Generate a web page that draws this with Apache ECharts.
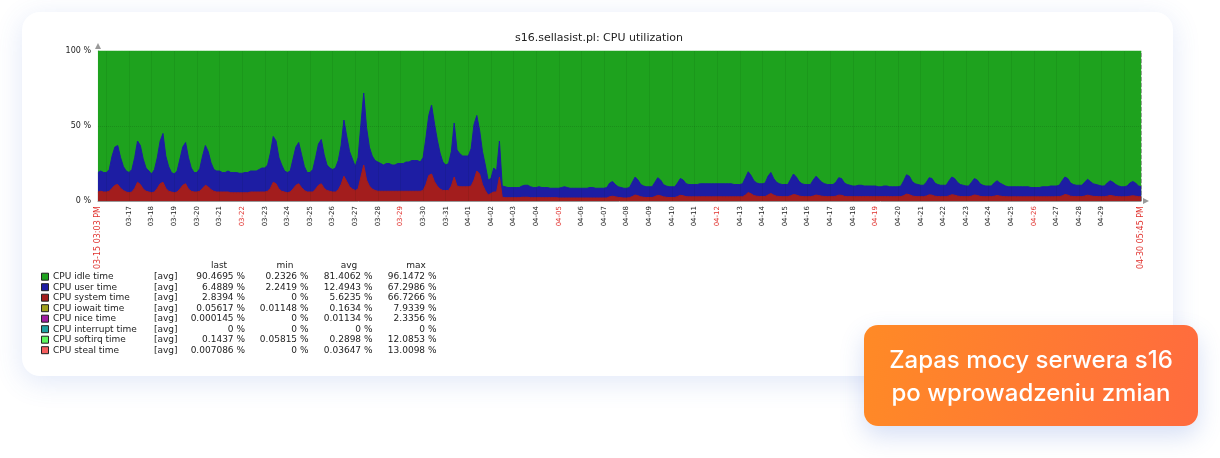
<!DOCTYPE html>
<html>
<head>
<meta charset="utf-8">
<title>s16.sellasist.pl: CPU utilization</title>
<script src="https://cdn.jsdelivr.net/npm/echarts@6/dist/echarts.min.js"></script>
<style>
  html, body { margin: 0; padding: 0; background: #ffffff; }
  body { width: 1220px; height: 458px; position: relative; overflow: hidden; }
  #card {
    position: absolute; left: 22px; top: 12px; width: 1151px; height: 364px;
    background: #ffffff; border-radius: 18px;
    box-shadow: 0 6px 28px rgba(70, 110, 210, 0.16);
  }
  #chart { position: absolute; left: 0; top: 0; width: 1220px; height: 458px; }
  #badge {
    position: absolute; left: 864px; top: 325px; width: 334px; height: 101px;
    border-radius: 14px;
    background: linear-gradient(100deg, #ff8a26 0%, #ff6b3e 100%);
    box-shadow: 0 10px 24px rgba(70, 110, 210, 0.22);
    color: #ffffff; font-family: Inter, "Open Sans", sans-serif; font-size: 24px; font-weight: 500;
    line-height: 33px; text-align: center;
    display: flex; align-items: center; justify-content: center;
  }
</style>
</head>
<body>
<div id="card"></div>
<div id="chart"></div>
<div id="badge"><div>Zapas mocy serwera s16<br>po wprowadzeniu zmian</div></div>
<script>
/**
 * Wykres CPU utilization (Zabbix) dla s16.sellasist.pl
 * czas w godzinach od 03-15 00:00, próbki co 3 godziny
 */
var startHour = 15.05;   // 03-15 03:03 PM
var endHour = 1121.75;   // 04-30 05:45 PM
var firstSlot = 15;      // pierwsza próbka 03-15 15:00
var stepHours = 3;

var firstLabel = '03-15 03:03 PM';
var lastLabel = '04-30 05:45 PM';
var dayLabels = ['03-17', '03-18', '03-19', '03-20', '03-21', '03-22', '03-23', '03-24', '03-25', '03-26',
  '03-27', '03-28', '03-29', '03-30', '03-31', '04-01', '04-02', '04-03', '04-04', '04-05', '04-06',
  '04-07', '04-08', '04-09', '04-10', '04-11', '04-12', '04-13', '04-14', '04-15', '04-16', '04-17',
  '04-18', '04-19', '04-20', '04-21', '04-22', '04-23', '04-24', '04-25', '04-26', '04-27', '04-28', '04-29'];
var redLabels = ['03-22', '03-29', '04-05', '04-12', '04-19', '04-26'];

// CPU system time [%] - co 3h (00,03,...,21)
var systemTime = [
  6, 6.5, 6,
  6, 6.5, 8.5, 10.5, 11, 8.5, 7, 6,
  5.5, 6, 8.5, 12.5, 11, 8, 6.5, 6,
  5.5, 6, 8.5, 11.5, 12.5, 8.5, 6.5, 6,
  5.5, 6, 8, 10.5, 11.5, 8, 6.5, 6,
  6, 6.5, 8.5, 10.5, 9.5, 7.5, 6.5, 6,
  6, 6, 6, 6, 5.5, 5.5, 5.5, 5.5,
  5.5, 5.5, 5.5, 6, 6, 6, 6, 6,
  6, 6.5, 8.5, 12.5, 11.5, 8, 6.5, 6,
  5.5, 6, 8, 10.5, 11.5, 9, 7, 6,
  6, 6, 8, 10.5, 11.5, 8.5, 7, 6.5,
  6, 6, 7.5, 11, 16.5, 13, 9.5, 8,
  7, 8, 16, 24, 14, 10, 8, 7,
  6.5, 6.5, 6.5, 6.5, 6.5, 6.5, 6.5, 6.5,
  6.5, 6.5, 6.5, 6.5, 6.5, 6.5, 6.5, 6.5,
  7, 11, 17, 18, 13, 10, 8, 7,
  7, 7, 10, 16, 10, 9.5, 9.5, 9.5,
  9.5, 10, 14, 20, 18, 11, 7, 4,
  5, 6, 6, 16, 2.5, 2.2, 2.2, 2.2,
  2.2, 2.2, 2.2, 2.5, 2.5, 2.5, 2.2, 2.2,
  2.2, 2.2, 2.2, 2.2, 2.2, 2.2, 2.2, 2.2,
  2, 2, 2, 2, 2, 2, 2, 2,
  2, 2, 2, 2, 2, 2, 2, 2,
  2, 2, 2.8, 3.2, 2.8, 2.4, 2.2, 2,
  2, 2.2, 3, 4, 3.5, 2.8, 2.5, 2.3,
  2.3, 2.3, 3, 3.8, 3.5, 2.8, 2.5, 2.3,
  2.3, 2.3, 3, 3.8, 3.5, 2.9, 2.8, 2.8,
  2.8, 2.8, 2.8, 2.8, 2.8, 2.8, 2.8, 2.8,
  2.8, 2.8, 2.8, 2.8, 2.8, 2.8, 2.8, 2.8,
  2.8, 2.8, 4, 5.6, 4.8, 3.6, 3.2, 3,
  3, 3, 4, 5, 4, 3.2, 3, 2.9,
  2.9, 2.9, 3.5, 4.3, 4, 3.3, 3, 2.9,
  2.9, 2.9, 3.3, 4, 3.6, 3.2, 3, 2.9,
  2.9, 2.9, 3.2, 3.9, 3.8, 3.1, 2.9, 2.9,
  2.9, 2.9, 2.9, 2.9, 2.9, 2.9, 2.9, 2.9,
  2.9, 2.9, 2.9, 2.9, 2.9, 2.9, 2.9, 2.9,
  2.9, 2.9, 3.6, 4.6, 4.2, 3.4, 3, 2.9,
  2.9, 2.9, 3.3, 4.1, 3.9, 3.2, 3, 2.9,
  2.9, 2.9, 3.4, 4.2, 3.9, 3.3, 3, 2.9,
  2.9, 2.9, 3.3, 4, 3.7, 3.1, 2.9, 2.9,
  2.9, 2.9, 3.2, 3.6, 3.3, 3, 2.9, 2.8,
  2.8, 2.8, 2.8, 2.8, 2.8, 2.8, 2.8, 2.8,
  2.8, 2.8, 2.8, 2.8, 2.8, 2.8, 2.8, 2.8,
  2.9, 2.9, 3.4, 4.3, 4, 3.2, 3, 2.9,
  2.9, 2.9, 3.3, 3.9, 3.5, 3.1, 3, 2.9,
  2.9, 2.9, 3.2, 3.7, 3.4, 3, 2.9, 2.8,
  2.8, 2.9, 3.2, 3.5, 3.2, 2.9, 2.8
];

// CPU user time [%] - co 3h (00,03,...,21)
var userTime = [
  13, 13.5, 13,
  13, 14.5, 21.5, 25.5, 26, 20.5, 16, 14,
  13.5, 15, 20.5, 27.5, 26, 20, 15.5, 14,
  12.5, 15, 20.5, 28.5, 32.5, 21.5, 16.5, 13,
  12.5, 14, 20, 25.5, 27.5, 21, 15.5, 13,
  13, 15, 21.5, 26.5, 23.5, 18, 14.5, 14,
  14, 13, 13, 14, 13.5, 13.5, 13.5, 13,
  13, 13.5, 13.5, 14, 14, 14, 15, 16,
  16, 17.5, 23.5, 30.5, 28.5, 21, 17.5, 14,
  13.5, 14, 20, 25.5, 27.5, 22, 16, 13,
  13, 15, 21, 27.5, 29.5, 22.5, 17, 15.5,
  15, 16, 19.5, 26, 37.5, 30, 23.5, 20,
  16, 21, 35, 48, 35, 26, 22, 20,
  19.5, 18.5, 17.5, 18.5, 18.5, 17.5, 17.5, 18.5,
  18.5, 18.5, 19.5, 19.5, 20.5, 20.5, 20.5, 19.5,
  22, 31, 40, 46, 39, 31, 24, 19,
  17, 18, 23, 36, 24, 22, 20.5, 20.5,
  20.5, 25, 37, 37, 29, 22, 17, 10,
  10, 16, 14, 24, 7.5, 7.3, 6.8, 6.8,
  6.8, 6.8, 6.8, 7.5, 8, 8, 7.3, 6.8,
  6.8, 7.3, 6.8, 6.8, 6.8, 6.3, 6.3, 6.3,
  6.5, 7, 7.5, 7, 6.5, 6.5, 6.5, 6.5,
  6.5, 6.5, 6.5, 7, 7, 6.5, 6.5, 6.5,
  6.5, 7, 9.2, 9.8, 8.2, 7.1, 6.8, 6.5,
  6.5, 6.8, 9.5, 12, 10.5, 8.2, 7.5, 7.2,
  7.2, 7.2, 9.5, 11.7, 10.5, 8.2, 7.5, 7.2,
  7.2, 7.2, 9, 11.2, 10.5, 8.6, 8.2, 8.2,
  8.2, 8.2, 8.7, 8.7, 8.7, 8.7, 8.7, 8.7,
  8.7, 8.7, 8.7, 8.7, 8.7, 8.7, 8.2, 8.2,
  8.2, 8.7, 11.5, 13.9, 12.2, 9.9, 8.8, 8.5,
  8.5, 9, 12.5, 14, 11, 9.3, 8.5, 8.1,
  8.1, 8.1, 11, 13.7, 12, 9.7, 8.5, 8.1,
  8.1, 8.1, 10.7, 12.5, 10.9, 9.3, 8.5, 8.1,
  8.1, 8.1, 9.3, 11.6, 11.2, 8.9, 8.1, 7.6,
  7.1, 7.1, 7.6, 7.6, 7.1, 7.1, 7.1, 7.1,
  7.1, 6.6, 6.6, 7.1, 7.1, 6.6, 6.6, 6.6,
  6.6, 7.1, 9.9, 12.9, 12.3, 9.6, 8.5, 8.1,
  7.6, 7.6, 9.2, 11.4, 11.1, 8.8, 8, 7.6,
  7.6, 7.6, 10, 11.8, 11.1, 9.2, 8, 7.6,
  7.1, 7.1, 9.2, 11, 10.3, 8.4, 7.6, 7.1,
  7.1, 7.1, 8.8, 9.9, 8.7, 8, 7.1, 6.7,
  6.7, 6.7, 6.7, 6.7, 6.7, 6.7, 6.7, 6.2,
  6.2, 6.2, 6.2, 6.7, 6.7, 6.7, 7.2, 7.2,
  7.1, 7.6, 10, 11.7, 11, 8.8, 8, 7.6,
  7.6, 7.6, 9.2, 10.6, 9.5, 8.4, 8, 7.6,
  7.1, 7.1, 8.8, 9.8, 9.1, 8, 7.1, 6.7,
  6.7, 7.1, 8.8, 9.5, 8.8, 7.1, 6.7
];

// tabela legendy
var legendNames = ['CPU idle time', 'CPU user time', 'CPU system time', 'CPU iowait time',
  'CPU nice time', 'CPU interrupt time', 'CPU softirq time', 'CPU steal time'];
var legendColors = ['#1ea21e', '#1d1da3', '#a31d1d', '#a0a01e', '#a01ea0', '#1ea0a0', '#5ef55e', '#f55e5e'];
var lastValues = ['90.4695', '6.4889', '2.8394', '0.05617', '0.000145', '0', '0.1437', '0.007086'];
var minValues = ['0.2326', '2.2419', '0', '0.01148', '0', '0', '0.05815', '0'];
var avgValues = ['81.4062', '12.4943', '5.6235', '0.1634', '0.01134', '0', '0.2898', '0.03647'];
var maxValues = ['96.1472', '67.2986', '66.7266', '7.9339', '2.3356', '0', '12.0853', '13.0098'];

function slotHour(i) {
	return firstSlot + i * stepHours;
}

function labelHours() {
	var vals = [startHour];
	for (var i = 0; i < dayLabels.length; i++) {
		vals.push(48 + 24 * i);
	}
	vals.push(endHour);
	return vals;
}

// etykiety osi X: poczatek/koniec wiekszym czerwonym, niedziele czerwone
function labelText(v) {
	v = parseFloat(v);
	if (Math.abs(v - startHour) < 0.01) return '{edge|' + firstLabel + '}';
	if (Math.abs(v - endHour) < 0.01) return '{edge|' + lastLabel + '}';
	var txt = dayLabels[Math.round((v - 48) / 24)] || '';
	return redLabels.indexOf(txt) >= 0 ? '{red|' + txt + '}' : '{day|' + txt + '}';
}

function legendGraphic() {
	var font = '9px "DejaVu Sans"';
	var els = [];
	var headers = [['last', 219], ['min', 285], ['avg', 349], ['max', 416]];
	headers.forEach(function (h) {
		els.push({ type: 'text', style: { text: h[0], x: h[1], y: 266, font: font, fill: '#222', textAlign: 'center', textVerticalAlign: 'middle' } });
	});
	for (var i = 0; i < legendNames.length; i++) {
		var cy = 276.7 + i * 10.5;
		els.push({ type: 'rect', shape: { x: 41.5, y: cy - 3.5, width: 7, height: 7 },
			style: { fill: legendColors[i], stroke: '#222', lineWidth: 1 } });
		els.push({ type: 'text', style: { text: legendNames[i], x: 53, y: cy, font: font, fill: '#222', textVerticalAlign: 'middle' } });
		els.push({ type: 'text', style: { text: '[avg]', x: 154, y: cy, font: font, fill: '#222', textVerticalAlign: 'middle' } });
		var cols = [[lastValues, 245], [minValues, 308.5], [avgValues, 372.5], [maxValues, 436.5]];
		cols.forEach(function (c) {
			els.push({ type: 'text', style: { text: c[0][i] + ' %', x: c[1], y: cy, font: font, fill: '#222', textAlign: 'right', textVerticalAlign: 'middle' } });
		});
	}
	els.push({ type: 'text', style: { text: 's16.sellasist.pl: CPU utilization', x: 599, y: 38,
		font: '11px "DejaVu Sans"', fill: '#222', textAlign: 'center', textVerticalAlign: 'middle' } });
	return els;
}

// warstwy liczone recznie (bez stack): kazda powierzchnia od 0 do swojej gornej krawedzi
var sysTop = [], userTop = [], idleTop = [];
for (var i = 0; i < systemTime.length; i++) {
	var h = slotHour(i);
	var idle = 100 - systemTime[i] - userTime[i];
	sysTop.push([h, systemTime[i]]);
	userTop.push([h, +(systemTime[i] + userTime[i]).toFixed(2)]);
	idleTop.push([h, +(systemTime[i] + userTime[i] + idle).toFixed(2)]);
}

var dayLines = [];
for (var d = 24; d < endHour; d += 24) {
	dayLines.push({ xAxis: d });
}

function areaSeries(name, data, color, z) {
	return {
		name: name, type: 'line', data: data, z: z,
		symbol: 'none', lineStyle: { color: color, width: 1 },
		areaStyle: { color: color, opacity: 1 }, itemStyle: { color: color }
	};
}

var myChart = echarts.init(document.getElementById('chart'), null, { renderer: 'canvas' });
var idleSeries = areaSeries('CPU idle time', idleTop, legendColors[0], 2);
idleSeries.markLine = {
	silent: true, symbol: 'none', label: { show: false },
	lineStyle: { color: 'rgba(0,30,0,0.07)', width: 1, type: 'solid' },
	data: dayLines.concat([
		{ yAxis: 50, lineStyle: { color: 'rgba(0,0,0,0.12)', type: 'dotted' } },
		{ xAxis: endHour, lineStyle: { color: 'rgba(120,120,120,0.6)', type: 'dashed' } }
	])
};

var option = {
	animation: false,
	backgroundColor: 'transparent',
	grid: { left: 98, right: 79, top: 51, bottom: 257 },
	graphic: legendGraphic(),
	xAxis: {
		type: 'value',
		min: startHour,
		max: endHour,
		axisLine: { show: true, lineStyle: { color: '#999', width: 1 }, symbol: ['none', 'triangle'], symbolSize: [6, 6], symbolOffset: [0, 5] },
		axisTick: { show: false },
		splitLine: { show: false },
		axisLabel: {
			customValues: labelHours(),
			rotate: 90,
			margin: 5,
			fontFamily: 'DejaVu Sans',
			formatter: labelText,
			rich: {
				day: { fontSize: 7, color: '#222', fontFamily: 'DejaVu Sans' },
				red: { fontSize: 7, color: '#e0302c', fontFamily: 'DejaVu Sans' },
				edge: { fontSize: 8, color: '#e0302c', fontFamily: 'DejaVu Sans' }
			}
		}
	},
	yAxis: {
		type: 'value',
		min: 0,
		max: 100,
		interval: 50,
		axisLine: { show: true, lineStyle: { color: '#999', width: 1 }, symbol: ['none', 'triangle'], symbolSize: [6, 6], symbolOffset: [0, 5] },
		axisTick: { show: false },
		splitLine: { show: false },
		axisLabel: { formatter: '{value} %', fontSize: 8, fontFamily: 'DejaVu Sans', color: '#222', margin: 7 }
	},
	series: [
		idleSeries,
		areaSeries('CPU user time', userTop, legendColors[1], 3),
		areaSeries('CPU system time', sysTop, legendColors[2], 4)
	]
};
myChart.setOption(option);
</script>
</body>
</html>
